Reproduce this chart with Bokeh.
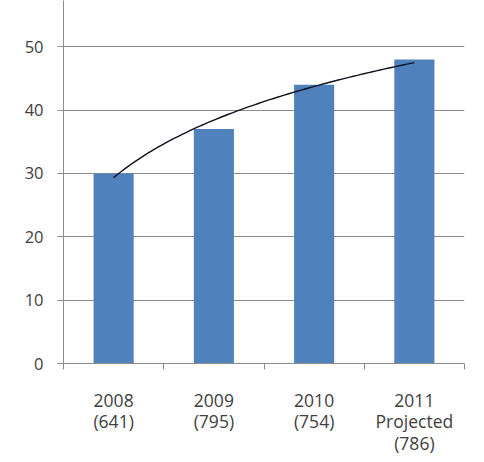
import numpy as np
from bokeh.plotting import figure
from bokeh.models import Range1d, FixedTicker
from bokeh.embed import file_html
from bokeh.resources import INLINE

# Data
categories = ["2008", "2009", "2010", "2011"]
tick_labels = ["2008\n(641)", "2009\n(795)", "2010\n(754)", "2011\nProjected\n(786)"]
values = [30, 37, 44, 48]
y_ticks = [0, 10, 20, 30, 40, 50]

positions = list(range(1, len(categories) + 1))

# Logarithmic trendline fitted to the bar values (as in the original chart)
lx = np.log(np.array(positions, dtype=float))
vy = np.array(values, dtype=float)
a, b = np.polyfit(lx, vy, 1)
tx = np.linspace(positions[0], positions[-1], 80)
ty = a * np.log(tx) + b

p = figure(frame_width=401, frame_height=363, output_backend="svg", toolbar_location=None,
           x_range=Range1d(0.5, 4.5), y_range=Range1d(0, 57.3),
           min_border_left=63, min_border_right=4, min_border_top=0,
           min_border_bottom=83)
p.outline_line_color = None
p.background_fill_color = "white"
p.border_fill_color = "white"

p.vbar(x=positions, top=values, width=0.4, fill_color="#4F81BD", line_color=None)
p.line(tx, ty, line_color="#111122", line_width=1.4)

grid_col = "#8c8c8c"
text_col = "#404040"

p.xgrid.visible = False
p.ygrid.grid_line_color = grid_col
p.ygrid.ticker = FixedTicker(ticks=y_ticks)

p.yaxis.ticker = FixedTicker(ticks=y_ticks)
p.yaxis.axis_line_color = grid_col
p.yaxis.major_tick_line_color = grid_col
p.yaxis.major_tick_out = 6
p.yaxis.major_tick_in = 0
p.yaxis.minor_tick_line_color = None
p.yaxis.major_label_text_font = "Open Sans"
p.yaxis.major_label_text_font_size = "16.5px"
p.yaxis.major_label_text_color = text_col
p.yaxis.major_label_standoff = 14

p.xaxis.ticker = FixedTicker(ticks=positions, minor_ticks=[0.5, 1.5, 2.5, 3.5, 4.5])
p.xaxis.major_label_overrides = {pos: lab for pos, lab in zip(positions, tick_labels)}
p.xaxis.axis_line_color = grid_col
p.xaxis.major_tick_line_color = None
p.xaxis.major_tick_out = 0
p.xaxis.major_tick_in = 0
p.xaxis.minor_tick_line_color = grid_col
p.xaxis.minor_tick_out = 6
p.xaxis.minor_tick_in = 0
p.xaxis.major_label_text_font = "Open Sans"
p.xaxis.major_label_text_font_size = "17.5px"
p.xaxis.major_label_text_color = text_col
p.xaxis.major_label_text_line_height = 0.9
p.xaxis.major_label_standoff = 18

open("out.html", "w").write(file_html(p, INLINE))
